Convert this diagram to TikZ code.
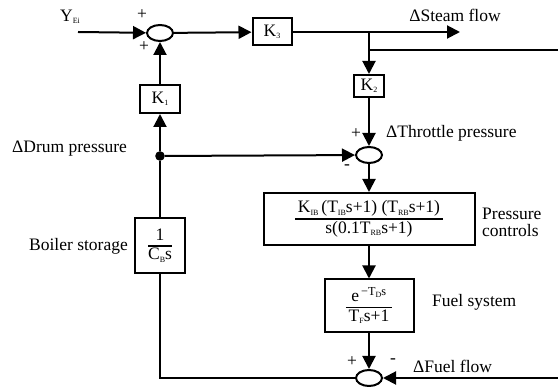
\documentclass[tikz,border=0pt]{standalone}
\usepackage{fontspec}
\setmainfont{Liberation Serif}
\usetikzlibrary{arrows.meta,shapes.geometric}
\newcommand{\lsub}[1]{\raisebox{-0.3ex}{\fontsize{8}{8}\selectfont #1}}
\newcommand{\blkfrac}[2]{${\vphantom{(}\hbox{#1}\above 1.6pt \hbox{#2}\vphantom{(}}$}
\tikzset{
  blk/.style={draw, line width=2pt, inner sep=2pt},
  sumj/.style={draw, ellipse, line width=2pt, minimum width=26pt, minimum height=16pt, inner sep=0pt},
  sig/.style={line width=2pt, -{Triangle[length=13pt,width=13pt]}},
  wire/.style={line width=2pt},
  lbl/.style={inner sep=0pt}
}
\begin{document}
\begin{tikzpicture}[x=1pt, y=-1pt, font=\fontsize{17.5}{20}\selectfont]
    \useasboundingbox (0,0) rectangle (558,387);
    % blocks and junctions
    \node[sumj] (s1) at (160,33) {};
    \node[blk, minimum width=39pt, minimum height=27pt] (k3) at (272,32) {K\lsub{3}};
    \node[blk, minimum width=30pt, minimum height=22pt] (k2) at (369,86) {K\lsub{2}};
    \node[sumj] (s2) at (369,155) {};
    \node[blk, minimum width=40pt, minimum height=28pt] (k1) at (160,99) {K\lsub{1}};
    \node[blk, minimum width=50pt, minimum height=55pt] (cb) at (160,246) {\blkfrac{1}{C\lsub{B}s}};
    \node[blk, minimum width=211pt, minimum height=52pt] (pc) at (369,219)
        {\blkfrac{\,K\lsub{IB}\,(T\lsub{IB}s+1) (T\lsub{RB}s+1)\,}{s(0.1T\lsub{RB}s+1)}};
    \node[blk, minimum width=89pt, minimum height=53pt] (fs) at (369,306)
        {\blkfrac{e\textsuperscript{\,−T\lsub{D}s}}{\,T\lsub{F}s+1\,}};
    \node[sumj] (s3) at (369,378) {};
    \node[circle, fill, inner sep=3.4pt] (dot) at (160,156) {};
    \coordinate (yin) at (78,32);
    \coordinate (steam) at (460,32);
    \coordinate (br) at (369,32);
    \coordinate (br2) at (369,50);
    \coordinate (outr) at (558,50);
    \coordinate (fin) at (558,378);
    \coordinate (bl) at (160,378);
    % connectors
    \draw[sig] (yin) -- (s1);
    \draw[sig] (s1) -- (k3);
    \draw[sig] (k3) -- (steam);
    \draw[sig] (br) -- (k2);
    \draw[wire] (br2) -- (outr);
    \draw[sig] (k2) -- (s2);
    \draw[sig] (dot) -- (s2);
    \draw[sig] (dot) -- (k1);
    \draw[sig] (k1) -- (s1);
    \draw[wire] (cb) -- (dot);
    \draw[wire] (cb) -- (bl) -- (s3);
    \draw[sig] (s2) -- (pc);
    \draw[sig] (pc) -- (fs);
    \draw[sig] (fs) -- (s3);
    \draw[sig] (fin) -- (s3);
    % labels
    \node[lbl] (ylbl) at (70,17) {Y\lsub{Ei}};
    \node[lbl] (p1) at (142,15) {+};
    \node[lbl] (p2) at (144,47) {+};
    \node[lbl] (sflbl) at (455,15) {ΔSteam flow};
    \node[lbl, anchor=west] (dplbl) at (12,149) {ΔDrum pressure};
    \node[lbl, anchor=east] (bslbl) at (128,246) {Boiler storage};
    \node[lbl] (p3) at (356,134) {+};
    \node[lbl, anchor=west] (tplbl) at (386,133) {ΔThrottle pressure};
    \node[lbl] (m1) at (347,167) {-};
    \node[lbl, anchor=west, align=left] (pclbl) at (482,222) {Pressure\\[-3pt]controls};
    \node[lbl, anchor=west] (fslbl) at (432,302) {Fuel system};
    \node[lbl] (p4) at (352,362) {+};
    \node[lbl] (m2) at (393,361) {-};
    \node[lbl, anchor=west] (fflbl) at (413,366) {ΔFuel flow};
\end{tikzpicture}
\end{document}
